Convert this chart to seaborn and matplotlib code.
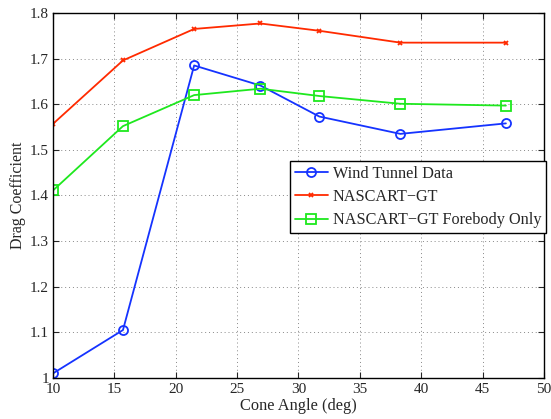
import matplotlib
matplotlib.use("Agg")
import matplotlib.pyplot as plt
import seaborn as sns
import pandas as pd

cone_angle = [10.0, 15.7, 21.5, 26.9, 31.7, 38.3, 46.9]
wind_tunnel = [1.010, 1.105, 1.685, 1.641, 1.573, 1.535, 1.558]
nascart = [1.557, 1.696, 1.765, 1.777, 1.761, 1.735, 1.735]
forebody = [1.411, 1.552, 1.620, 1.634, 1.618, 1.601, 1.597]

series_names = ["Wind Tunnel Data", "NASCART\u2212GT", "NASCART\u2212GT Forebody Only"]
series_values = [wind_tunnel, nascart, forebody]
colors = ["#1533ff", "#ff2a00", "#1ee81e"]
markers = ["o", "x", "s"]
msizes = [6.5, 3.5, 6.5]

sns.set_style("ticks")
plt.rcParams['font.family'] = ['Liberation Serif', 'DejaVu Serif']
plt.rcParams['mathtext.fontset'] = 'stix'

fig = plt.figure(figsize=(5.51, 4.19), dpi=100)
ax = fig.add_axes([0.0962, 0.098, 0.891, 0.871])

for name, vals, c, m, ms in zip(series_names, series_values, colors, markers, msizes):
    df = pd.DataFrame({"x": cone_angle, "y": vals})
    sns.lineplot(data=df, x="x", y="y", ax=ax, color=c, marker=m, markersize=ms,
                 markerfacecolor="none", markeredgecolor=c, markeredgewidth=1.3,
                 linewidth=1.3, label=name, sort=False)

ax.set_xlim(10, 50)
ax.set_ylim(1.0, 1.8)
ax.set_xticks(range(10, 51, 5))
ax.set_yticks([1.0, 1.1, 1.2, 1.3, 1.4, 1.5, 1.6, 1.7, 1.8])
ax.set_yticklabels(["1", "1.1", "1.2", "1.3", "1.4", "1.5", "1.6", "1.7", "1.8"])
ax.grid(True, linestyle=(0, (1, 3)), color="#888888", linewidth=0.7)
ax.tick_params(direction="in", length=4, labelsize=11, top=True, right=True, width=0.8)
ax.tick_params(axis="x", pad=4)
ax.tick_params(axis="y", pad=3)
for s in ax.spines.values():
    s.set_linewidth(1.0)
    s.set_color("black")
ax.set_xlabel("Cone Angle (deg)", fontsize=11.8, labelpad=1)
ax.set_ylabel("Drag Coefficient", fontsize=11.5, labelpad=3)

leg = ax.legend(loc="upper right", bbox_to_anchor=(1.004, 0.595), fontsize=11.7,
                frameon=True, fancybox=False, edgecolor="black", framealpha=1,
                borderpad=0.3, handlelength=2.0, handletextpad=0.3,
                labelspacing=0.45, borderaxespad=0)
leg.get_frame().set_linewidth(1.0)

fig.savefig("out.png", dpi=100)
